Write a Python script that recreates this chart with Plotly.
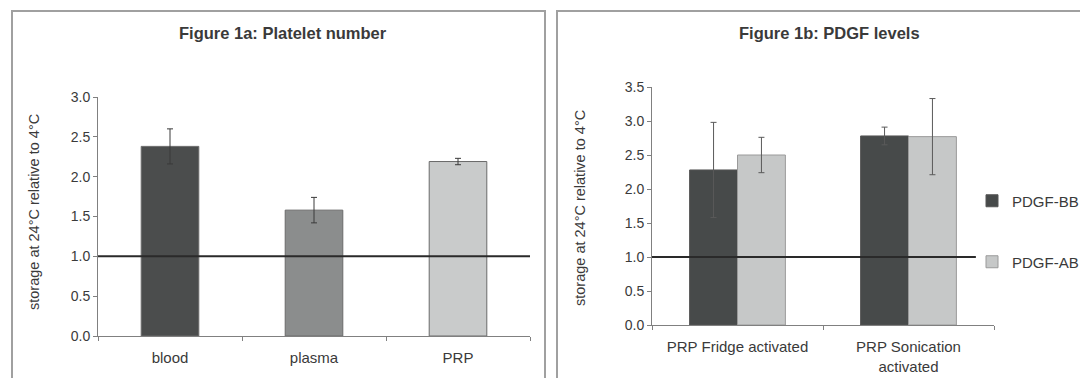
import plotly.graph_objects as go

# ---- data ----
cats_a = ["blood", "plasma", "PRP"]
vals_a = [2.38, 1.58, 2.19]
err_a = [0.22, 0.16, 0.04]
colors_a = ["#4b4d4d", "#8b8d8d", "#c9cbcb"]

cats_b = ["PRP Fridge activated", "PRP Sonication<br>activated"]
series_b = ["PDGF-BB", "PDGF-AB"]
vals_bb = [2.28, 2.78]
err_bb = [0.70, 0.13]
vals_ab = [2.50, 2.77]
err_ab = [0.26, 0.56]
colors_b = ["#474a4a", "#c6c8c8"]

ref_level = 1.0
yticks_a = [0.0, 0.5, 1.0, 1.5, 2.0, 2.5, 3.0]
yticks_b = [0.0, 0.5, 1.0, 1.5, 2.0, 2.5, 3.0, 3.5]
ytitle = "storage at 24°C relative to 4°C"

# page is drawn with an 8px body margin
OFF = 8
W, H = 1080, 370
FONT = "Liberation Sans, Arial, sans-serif"
TXT = "#3a3a3a"


def px(x):
    return (x - OFF) / W


def py(y):
    return 1 - (y - OFF) / H


fig = go.Figure()

fig.add_trace(go.Bar(
    x=cats_a, y=vals_a, xaxis="x", yaxis="y",
    marker=dict(color=colors_a, line=dict(color="#6a6a6a", width=1)),
    error_y=dict(type="data", array=err_a, visible=True, color="#3a3a3a",
                 thickness=1, width=3),
    width=0.4, showlegend=False,
))

fig.add_trace(go.Bar(
    x=cats_b, y=vals_bb, xaxis="x2", yaxis="y2", name=series_b[0],
    marker=dict(color=colors_b[0], line=dict(color="#555555", width=1)),
    error_y=dict(type="data", array=err_bb, visible=True, color="#5a5a5a",
                 thickness=1, width=3),
    legend="legend",
))
fig.add_trace(go.Bar(
    x=cats_b, y=vals_ab, xaxis="x2", yaxis="y2", name=series_b[1],
    marker=dict(color=colors_b[1], line=dict(color="#9a9a9a", width=1)),
    error_y=dict(type="data", array=err_ab, visible=True, color="#5a5a5a",
                 thickness=1, width=3),
    legend="legend2",
))

axis_common = dict(
    showline=True, linecolor="#808080", linewidth=1,
    ticks="outside", ticklen=4, tickcolor="#808080",
    showgrid=False, zeroline=False, automargin=False,
)
yfont = dict(family=FONT, size=14, color=TXT)
xfont = dict(family=FONT, size=15, color=TXT)

legend_common = dict(xanchor="left", yanchor="middle", itemwidth=30,
                     font=dict(family=FONT, size=15, color=TXT),
                     bgcolor="rgba(0,0,0,0)")

fig.update_layout(
    width=W, height=H,
    margin=dict(l=0, r=0, t=0, b=0),
    paper_bgcolor="white", plot_bgcolor="rgba(0,0,0,0)",
    barmode="group", bargap=0.44, bargroupgap=0,
    font=dict(family=FONT, color=TXT),
    xaxis=dict(domain=[px(98), px(530)], anchor="y", type="category",
               tickson="boundaries", tickfont=xfont, ticklabelstandoff=8,
               **axis_common),
    yaxis=dict(domain=[py(336), py(97)], anchor="x", range=[0, 3.0],
               tickvals=yticks_a, tickformat=".1f", tickfont=yfont,
               **axis_common),
    xaxis2=dict(domain=[px(652), px(994)], anchor="y2", type="category",
                tickson="boundaries", tickfont=xfont, ticklabelstandoff=8,
                **axis_common),
    yaxis2=dict(domain=[py(325), py(87)], anchor="x2", range=[0, 3.5],
                tickvals=yticks_b, tickformat=".1f", tickfont=yfont,
                **axis_common),
    legend=dict(x=px(972), y=py(201), **legend_common),
    legend2=dict(x=px(972), y=py(262), **legend_common),
    shapes=[
        dict(type="rect", xref="paper", yref="paper",
             x0=px(12), x1=px(545), y0=py(400), y1=py(11),
             line=dict(color="#a0a0a0", width=2), fillcolor="rgba(0,0,0,0)"),
        dict(type="rect", xref="paper", yref="paper",
             x0=px(557), x1=px(1110), y0=py(400), y1=py(11),
             line=dict(color="#a0a0a0", width=2), fillcolor="rgba(0,0,0,0)"),
        dict(type="line", xref="x domain", yref="y", x0=0, x1=1,
             y0=ref_level, y1=ref_level, line=dict(color="#2a2a2a", width=2)),
        dict(type="line", xref="x2 domain", yref="y2", x0=0, x1=0.947,
             y0=ref_level, y1=ref_level, line=dict(color="#2a2a2a", width=2)),
    ],
    annotations=[
        dict(text="<b>Figure 1a: Platelet number</b>", xref="paper", yref="paper",
             x=px(283), y=py(33), xanchor="center", yanchor="middle",
             showarrow=False, font=dict(family=FONT, size=16.5, color=TXT)),
        dict(text="<b>Figure 1b: PDGF levels</b>", xref="paper", yref="paper",
             x=px(829), y=py(33), xanchor="center", yanchor="middle",
             showarrow=False, font=dict(family=FONT, size=16.5, color=TXT)),
        dict(text=ytitle, xref="paper", yref="paper", textangle=-90,
             x=px(34), y=py(212), xanchor="center", yanchor="middle",
             showarrow=False, font=dict(family=FONT, size=14.5, color=TXT)),
        dict(text=ytitle, xref="paper", yref="paper", textangle=-90,
             x=px(580), y=py(208), xanchor="center", yanchor="middle",
             showarrow=False, font=dict(family=FONT, size=14.5, color=TXT)),
    ],
)

fig.write_html("out.html")
